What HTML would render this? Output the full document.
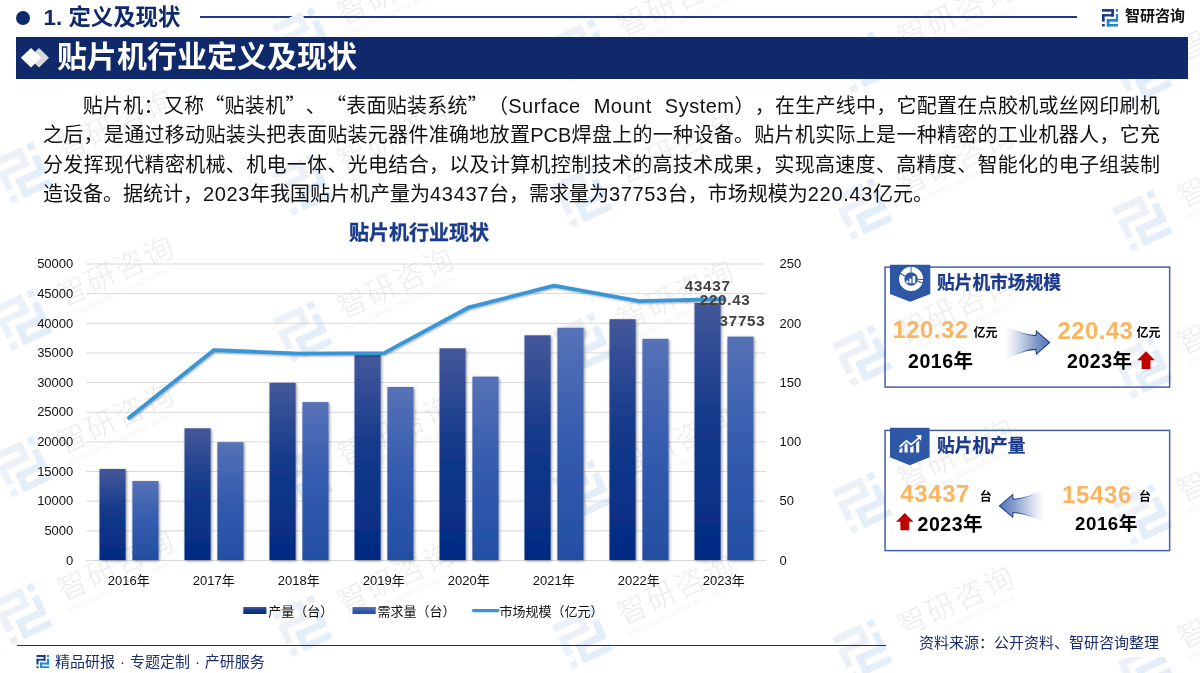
<!DOCTYPE html>
<html lang="zh-CN">
<head>
<meta charset="utf-8">
<title>贴片机行业定义及现状</title>
<style>
html,body{margin:0;padding:0;}
body{width:1200px;height:673px;position:relative;overflow:hidden;background:#fff;
  font-family:"Liberation Sans","Noto Sans CJK SC",sans-serif;color:#000;}
.abs{position:absolute;white-space:nowrap;}
#hdr-dot{left:16px;top:11px;width:14px;height:14px;border-radius:50%;background:#10296b;}
#hdr-txt{left:43.5px;top:3px;font-size:22.4px;line-height:30px;font-weight:bold;color:#10296b;}
#hdr-line{left:200px;top:16.4px;width:877px;height:1.2px;background:#1f3a8a;}
#logo-txt{left:1125px;top:5px;font-size:15px;line-height:22px;font-weight:bold;color:#111;}
#bar{left:16px;top:36.5px;width:1172px;height:42px;background:#10296b;}
#bar-txt{left:57px;top:36px;font-size:30px;line-height:42px;font-weight:bold;color:#fff;}
#para{left:43px;top:91.8px;width:1117px;font-size:20px;line-height:29.4px;color:#111;white-space:normal;}
#para div{text-align:justify;text-align-last:justify;white-space:nowrap;height:29.4px;}
#para{text-spacing-trim:space-all;}
#para .q{font-family:"Noto Sans CJK SC",sans-serif;line-height:0;display:inline-block;width:20.26px;}
#para .p{display:inline-block;width:20.26px;line-height:0;}
#para .d{letter-spacing:0.65px;}
#para div.l1{padding-left:39.8px;text-align:left;text-align-last:left;letter-spacing:0.26px;}
#para .lat{letter-spacing:0.5px;word-spacing:7px;}
#para div.last{text-align:left;text-align-last:left;}
#chart-title{left:319px;top:218.5px;width:200px;text-align:center;font-size:20px;line-height:28px;font-weight:bold;color:#1a3a8c;-webkit-text-stroke:0.3px #1a3a8c;}
#foot-line{left:16.5px;top:644.5px;width:869px;height:1.5px;background:#1a2e6e;}
#foot-src{left:907px;top:630px;padding:2px 12px 3px 12px;background:#fff;font-size:15px;line-height:22px;color:#1a2e6e;}
#foot-txt{left:55px;top:651px;font-size:15px;line-height:22px;color:#1a2e6e;word-spacing:0.8px;}
.card{border:1.5px solid #4262ab;box-sizing:border-box;left:884.3px;width:286px;height:121.4px;}
.ctitle{font-size:17.7px;line-height:24px;font-weight:bold;color:#1a3a8c;-webkit-text-stroke:0.25px #1a3a8c;}
.num{font-size:24px;line-height:28px;font-weight:bold;color:#fcb55f;letter-spacing:0.4px;}
.unit{font-size:12px;line-height:16px;font-weight:bold;color:#000;}
.yr{font-size:19.5px;line-height:26px;font-weight:bold;color:#000;letter-spacing:0.55px;}
</style>
</head>
<body>
<!-- header -->
<div class="abs" id="hdr-dot"></div>
<div class="abs" id="hdr-txt">1. 定义及现状</div>
<div class="abs" id="hdr-line"></div>
<svg width="0" height="0" style="position:absolute">
  <defs>
    <symbol id="zylogo" viewBox="0 0 16.6 17.7">
      <g fill="#1f3a8a">
        <rect x="0" y="0" width="11.9" height="2.7"/><rect x="9.3" y="0" width="2.6" height="7.5"/>
        <rect x="0" y="5.1" width="11.9" height="2.4"/><rect x="0" y="5.1" width="2.7" height="7.6"/>
        <rect x="0" y="15" width="2.7" height="2.7"/>
      </g>
      <g fill="#1a8ad8">
        <rect x="13.9" y="0" width="2.7" height="2.7"/><rect x="13.9" y="5" width="2.7" height="7.7"/>
        <rect x="4.8" y="10" width="11.8" height="2.7"/><rect x="4.8" y="10" width="2.7" height="7.7"/>
        <rect x="4.8" y="15" width="11.8" height="2.7"/>
      </g>
    </symbol>
    <symbol id="zylogow" viewBox="0 0 16.6 17.7">
      <g fill="#ecf0f7">
        <rect x="0" y="0" width="11.9" height="2.7"/><rect x="9.3" y="0" width="2.6" height="7.5"/>
        <rect x="0" y="5.1" width="11.9" height="2.4"/><rect x="0" y="5.1" width="2.7" height="7.6"/>
        <rect x="0" y="15" width="2.7" height="2.7"/>
      </g>
      <g fill="#e4eef9">
        <rect x="13.9" y="0" width="2.7" height="2.7"/><rect x="13.9" y="5" width="2.7" height="7.7"/>
        <rect x="4.8" y="10" width="11.8" height="2.7"/><rect x="4.8" y="10" width="2.7" height="7.7"/>
        <rect x="4.8" y="15" width="11.8" height="2.7"/>
      </g>
    </symbol>
  </defs>
</svg>
<!--WM-START-->
<svg class="abs" id="wm" style="left:0;top:0;pointer-events:none" width="1200" height="673" viewBox="0 0 1200 673" font-family="'Liberation Sans','Noto Sans CJK SC',sans-serif">
<defs><g id="wmu"><use href="#zylogow" x="-22" y="-24" width="45" height="48"/><text x="42.6" y="6" font-size="30" font-weight="300" letter-spacing="1.6" fill="#000" opacity="0.075">智研咨询</text><text x="43" y="18.5" font-size="7" textLength="118" lengthAdjust="spacing" fill="#000" opacity="0.06">INTELLIGENCE RESEARCH GROUP</text></g></defs>
<use href="#wmu" transform="translate(302,-109) rotate(-25)"/>
<use href="#wmu" transform="translate(582,-97) rotate(-25)"/>
<use href="#wmu" transform="translate(862,-85) rotate(-25)"/>
<use href="#wmu" transform="translate(1142,-73) rotate(-25)"/>
<use href="#wmu" transform="translate(302,38) rotate(-25)"/>
<use href="#wmu" transform="translate(582,50) rotate(-25)"/>
<use href="#wmu" transform="translate(862,62) rotate(-25)"/>
<use href="#wmu" transform="translate(1142,74) rotate(-25)"/>
<use href="#wmu" transform="translate(22,173) rotate(-25)"/>
<use href="#wmu" transform="translate(302,185) rotate(-25)"/>
<use href="#wmu" transform="translate(582,197) rotate(-25)"/>
<use href="#wmu" transform="translate(862,209) rotate(-25)"/>
<use href="#wmu" transform="translate(1142,221) rotate(-25)"/>
<use href="#wmu" transform="translate(22,320) rotate(-25)"/>
<use href="#wmu" transform="translate(302,332) rotate(-25)"/>
<use href="#wmu" transform="translate(582,344) rotate(-25)"/>
<use href="#wmu" transform="translate(862,356) rotate(-25)"/>
<use href="#wmu" transform="translate(1142,368) rotate(-25)"/>
<use href="#wmu" transform="translate(22,467) rotate(-25)"/>
<use href="#wmu" transform="translate(302,479) rotate(-25)"/>
<use href="#wmu" transform="translate(582,491) rotate(-25)"/>
<use href="#wmu" transform="translate(862,503) rotate(-25)"/>
<use href="#wmu" transform="translate(1142,515) rotate(-25)"/>
<use href="#wmu" transform="translate(22,614) rotate(-25)"/>
<use href="#wmu" transform="translate(302,626) rotate(-25)"/>
<use href="#wmu" transform="translate(582,638) rotate(-25)"/>
<use href="#wmu" transform="translate(862,650) rotate(-25)"/>
<use href="#wmu" transform="translate(1142,662) rotate(-25)"/>
</svg>
<!--WM-END-->
<svg class="abs" id="logo-ico" style="left:1101.7px;top:9.3px" width="16.6" height="17.7"><use href="#zylogo"/></svg>
<div class="abs" id="logo-txt">智研咨询</div>

<!-- title bar -->
<div class="abs" id="bar"></div>
<svg class="abs" style="left:18px;top:45px" width="36" height="26" viewBox="0 0 36 26">
  <polygon points="21,2.9 31,12.7 21,22.5 11,12.7" fill="#d9d9d9"/>
  <polygon points="13,2.9 23.2,12.7 13,22.5 2.8,12.7" fill="#ffffff"/>
</svg>
<div class="abs" id="bar-txt">贴片机行业定义及现状</div>

<!-- paragraph -->
<div class="abs" id="para">
<div class="l1">贴片机：又称<span class="q">“</span>贴装机<span class="q">”</span><span class="p">、</span><span class="q">“</span>表面贴装系统<span class="q">”</span><span class="p">（</span><span class="lat">Surface Mount System</span><span class="p">）</span><span class="p">，</span>在生产线中，它配置在点胶机或丝网印刷机</div>
<div>之后，是通过移动贴装头把表面贴装元器件准确地放置PCB焊盘上的一种设备。贴片机实际上是一种精密的工业机器人，它充</div>
<div>分发挥现代精密机械、机电一体、光电结合，以及计算机控制技术的高技术成果，实现高速度、高精度、智能化的电子组装制</div>
<div class="last">造设备。据统计，<span class="d">2023</span>年我国贴片机产量为<span class="d">43437</span>台，需求量为<span class="d">37753</span>台，市场规模为<span class="d">220.43</span>亿元。</div>
</div>

<!-- chart -->
<div class="abs" id="chart-title">贴片机行业现状</div>
<!--CHART-START-->
<svg class="abs" style="left:0;top:240px" width="880" height="400" viewBox="0 240 880 400" font-family="'Liberation Sans','Noto Sans CJK SC',sans-serif">
<defs><linearGradient id="gp" x1="0" y1="0" x2="0" y2="1"><stop offset="0" stop-color="#44589b"/><stop offset="0.45" stop-color="#143a8a"/><stop offset="1" stop-color="#022a82"/></linearGradient><linearGradient id="gd" x1="0" y1="0" x2="0" y2="1"><stop offset="0" stop-color="#5672b7"/><stop offset="0.5" stop-color="#345bae"/><stop offset="1" stop-color="#234fa2"/></linearGradient><filter id="sh" x="-30%" y="-5%" width="160%" height="110%"><feGaussianBlur in="SourceAlpha" stdDeviation="1.6"/><feOffset dx="0.6" dy="0.6"/><feComponentTransfer><feFuncA type="linear" slope="0.45"/></feComponentTransfer><feMerge><feMergeNode/><feMergeNode in="SourceGraphic"/></feMerge></filter><filter id="shl" x="-5%" y="-20%" width="110%" height="140%"><feGaussianBlur in="SourceAlpha" stdDeviation="1.2"/><feOffset dx="0.5" dy="1"/><feComponentTransfer><feFuncA type="linear" slope="0.35"/></feComponentTransfer><feMerge><feMergeNode/><feMergeNode in="SourceGraphic"/></feMerge></filter></defs>
<line x1="86.0" y1="560.50" x2="766.0" y2="560.50" stroke="#d9d9d9" stroke-width="1"/>
<line x1="86.0" y1="530.85" x2="766.0" y2="530.85" stroke="#d9d9d9" stroke-width="1"/>
<line x1="86.0" y1="501.20" x2="766.0" y2="501.20" stroke="#d9d9d9" stroke-width="1"/>
<line x1="86.0" y1="471.55" x2="766.0" y2="471.55" stroke="#d9d9d9" stroke-width="1"/>
<line x1="86.0" y1="441.90" x2="766.0" y2="441.90" stroke="#d9d9d9" stroke-width="1"/>
<line x1="86.0" y1="412.25" x2="766.0" y2="412.25" stroke="#d9d9d9" stroke-width="1"/>
<line x1="86.0" y1="382.60" x2="766.0" y2="382.60" stroke="#d9d9d9" stroke-width="1"/>
<line x1="86.0" y1="352.95" x2="766.0" y2="352.95" stroke="#d9d9d9" stroke-width="1"/>
<line x1="86.0" y1="323.30" x2="766.0" y2="323.30" stroke="#d9d9d9" stroke-width="1"/>
<line x1="86.0" y1="293.65" x2="766.0" y2="293.65" stroke="#d9d9d9" stroke-width="1"/>
<line x1="86.0" y1="264.00" x2="766.0" y2="264.00" stroke="#d9d9d9" stroke-width="1"/>
<text x="73.3" y="564.70" font-size="13" text-anchor="end" fill="#111">0</text>
<text x="73.3" y="535.05" font-size="13" text-anchor="end" fill="#111">5000</text>
<text x="73.3" y="505.40" font-size="13" text-anchor="end" fill="#111">10000</text>
<text x="73.3" y="475.75" font-size="13" text-anchor="end" fill="#111">15000</text>
<text x="73.3" y="446.10" font-size="13" text-anchor="end" fill="#111">20000</text>
<text x="73.3" y="416.45" font-size="13" text-anchor="end" fill="#111">25000</text>
<text x="73.3" y="386.80" font-size="13" text-anchor="end" fill="#111">30000</text>
<text x="73.3" y="357.15" font-size="13" text-anchor="end" fill="#111">35000</text>
<text x="73.3" y="327.50" font-size="13" text-anchor="end" fill="#111">40000</text>
<text x="73.3" y="297.85" font-size="13" text-anchor="end" fill="#111">45000</text>
<text x="73.3" y="268.20" font-size="13" text-anchor="end" fill="#111">50000</text>
<text x="779.5" y="564.70" font-size="13" fill="#111">0</text>
<text x="779.5" y="505.40" font-size="13" fill="#111">50</text>
<text x="779.5" y="446.10" font-size="13" fill="#111">100</text>
<text x="779.5" y="386.80" font-size="13" fill="#111">150</text>
<text x="779.5" y="327.50" font-size="13" fill="#111">200</text>
<text x="779.5" y="268.20" font-size="13" fill="#111">250</text>
<g filter="url(#sh)">
<rect x="99.50" y="468.96" width="26.1" height="91.04" fill="url(#gp)"/>
<rect x="132.40" y="481.04" width="26.1" height="78.96" fill="url(#gd)"/>
<rect x="184.50" y="428.30" width="26.1" height="131.70" fill="url(#gp)"/>
<rect x="217.40" y="442.20" width="26.1" height="117.80" fill="url(#gd)"/>
<rect x="269.50" y="382.78" width="26.1" height="177.22" fill="url(#gp)"/>
<rect x="302.40" y="402.11" width="26.1" height="157.89" fill="url(#gd)"/>
<rect x="354.50" y="354.85" width="26.1" height="205.15" fill="url(#gp)"/>
<rect x="387.40" y="386.99" width="26.1" height="173.01" fill="url(#gd)"/>
<rect x="439.50" y="348.32" width="26.1" height="211.68" fill="url(#gp)"/>
<rect x="472.40" y="376.61" width="26.1" height="183.39" fill="url(#gd)"/>
<rect x="524.50" y="335.28" width="26.1" height="224.72" fill="url(#gp)"/>
<rect x="557.40" y="327.81" width="26.1" height="232.19" fill="url(#gd)"/>
<rect x="609.50" y="319.21" width="26.1" height="240.79" fill="url(#gp)"/>
<rect x="642.40" y="338.84" width="26.1" height="221.16" fill="url(#gd)"/>
<rect x="694.50" y="302.92" width="26.1" height="257.08" fill="url(#gp)"/>
<rect x="727.40" y="336.62" width="26.1" height="223.38" fill="url(#gd)"/>
</g>
<polyline points="129.00,417.80 214.00,350.10 299.00,353.66 384.00,353.07 469.00,307.29 554.00,285.70 639.00,301.12 724.00,299.07" fill="none" stroke="#3796d6" stroke-width="3.8" stroke-linejoin="round" stroke-linecap="round" filter="url(#shl)"/>
<text x="128.80" y="585.2" font-size="13" text-anchor="middle" fill="#111">2016年</text>
<text x="213.80" y="585.2" font-size="13" text-anchor="middle" fill="#111">2017年</text>
<text x="298.80" y="585.2" font-size="13" text-anchor="middle" fill="#111">2018年</text>
<text x="383.80" y="585.2" font-size="13" text-anchor="middle" fill="#111">2019年</text>
<text x="468.80" y="585.2" font-size="13" text-anchor="middle" fill="#111">2020年</text>
<text x="553.80" y="585.2" font-size="13" text-anchor="middle" fill="#111">2021年</text>
<text x="638.80" y="585.2" font-size="13" text-anchor="middle" fill="#111">2022年</text>
<text x="723.80" y="585.2" font-size="13" text-anchor="middle" fill="#111">2023年</text>
<g font-size="15.2" font-weight="bold" fill="#404040" letter-spacing="0.7">
<text x="684.8" y="290.9">43437</text>
<text x="699.8" y="305">220.43</text>
<text x="719.6" y="326.4">37753</text>
</g>
<rect x="243.3" y="607" width="23.1" height="7" fill="url(#gp)"/>
<text x="268.3" y="615.7" font-size="13" fill="#111">产量（台）</text>
<rect x="352.5" y="607" width="23.2" height="7" fill="url(#gd)"/>
<text x="377.6" y="615.7" font-size="13" fill="#111">需求量（台）</text>
<line x1="473.5" y1="610.6" x2="498" y2="610.6" stroke="#3796d6" stroke-width="3.2" stroke-linecap="round"/>
<text x="499.5" y="615.7" font-size="13" fill="#111">市场规模（亿元）</text>
</svg>
<!--CHART-END-->

<!-- cards -->
<!--CARDS-START-->
<!-- card 1 -->
<svg class="abs" style="left:880px;top:262px" width="296" height="130" viewBox="880 262 296 130"><rect x="885.05" y="267.1" width="284.6" height="120" fill="none" stroke="#4060a8" stroke-width="1.5"/></svg>
<svg class="abs" style="left:888px;top:262px" width="46" height="44" viewBox="888 262 46 44">
  <polygon points="890,264.8 930.3,264.8 930.3,294.1 910.2,301.8 890,294.1" fill="#2e57a6"/>
  <circle cx="911.1" cy="278.9" r="9.4" fill="none" stroke="#fff" stroke-width="5.3"/>
  <g stroke="#2e57a6" fill="none">
    <line x1="911.1" y1="265" x2="911.1" y2="272.5" stroke-width="0.9"/>
    <line x1="899.5" y1="273" x2="905.3" y2="276.2" stroke-width="1.2"/>
    <line x1="917.3" y1="279.2" x2="924" y2="279.6" stroke-width="1"/>
    <line x1="917.2" y1="281" x2="923.6" y2="283.3" stroke-width="1.1"/>
  </g>
  <g fill="#fff">
    <rect x="906.3" y="280.6" width="2.1" height="2.6"/>
    <rect x="909.3" y="278.6" width="2.1" height="4.6"/>
    <rect x="912.6" y="276" width="2.6" height="7.2"/>
  </g>
</svg>
<div class="abs ctitle" style="left:937px;top:270.5px">贴片机市场规模</div>
<div class="abs num" style="left:892.6px;top:316.3px">120.32</div>
<div class="abs unit" style="left:973.5px;top:324.5px">亿元</div>
<div class="abs yr" style="left:908px;top:347.5px">2016年</div>
<svg class="abs" style="left:1000px;top:320px" width="56" height="46" viewBox="1000 320 56 46">
  <defs>
    <linearGradient id="ga1" x1="1005" y1="0" x2="1051" y2="0" gradientUnits="userSpaceOnUse"><stop offset="0" stop-color="#4f70b4" stop-opacity="0"/><stop offset="0.08" stop-color="#4f70b4" stop-opacity="0.06"/><stop offset="0.35" stop-color="#4f70b4" stop-opacity="0.33"/><stop offset="0.67" stop-color="#4f70b4" stop-opacity="0.71"/><stop offset="1" stop-color="#4f70b4" stop-opacity="1"/></linearGradient>
    <linearGradient id="gs1" x1="1005" y1="0" x2="1050" y2="0" gradientUnits="userSpaceOnUse"><stop offset="0" stop-color="#1f4190" stop-opacity="0"/><stop offset="0.2" stop-color="#1f4190" stop-opacity="0"/><stop offset="0.6" stop-color="#1f4190" stop-opacity="1"/><stop offset="1" stop-color="#1f4190" stop-opacity="1"/></linearGradient>
  </defs>
  <path d="M1005,325.1 C1014,331.2 1027,335.5 1036,335.6 L1036.4,331 L1049.7,342.5 L1036.4,354.2 L1036,349.4 C1027,349.5 1014,354.2 1005,360.8 Z" fill="url(#ga1)" stroke="url(#gs1)" stroke-width="1.1" stroke-linejoin="miter"/>
</svg>
<div class="abs num" style="left:1057.5px;top:316.5px">220.43</div>
<div class="abs unit" style="left:1136.5px;top:324.5px">亿元</div>
<div class="abs yr" style="left:1067px;top:347.5px">2023年</div>
<svg class="abs" style="left:1136px;top:350px" width="20" height="20" viewBox="1136 350 20 20">
  <polygon points="1146,351.3 1154.9,360.3 1150.5,360.3 1150.5,368.9 1141.6,368.9 1141.6,360.3 1137.1,360.3" fill="#c00000"/>
</svg>

<!-- card 2 -->
<svg class="abs" style="left:880px;top:425px" width="296" height="130" viewBox="880 425 296 130"><rect x="885.05" y="430.4" width="284.6" height="120.2" fill="none" stroke="#4060a8" stroke-width="1.5"/></svg>
<svg class="abs" style="left:888px;top:425px" width="46" height="44" viewBox="888 425 46 44">
  <polygon points="890,427.8 929.6,427.8 929.6,457.2 909.8,465.3 890,457.2" fill="#2e57a6"/>
  <g fill="#fff">
    <polygon points="899.4,449.6 902.4,447.4 902.4,452.4 899.4,452.4"/>
    <polygon points="904.5,445 906.4,443.3 907.6,444.3 907.6,452.4 904.5,452.4"/>
    <polygon points="910.2,446.6 911.2,447.4 913.5,445.4 913.5,452.4 910.2,452.4"/>
    <polygon points="916.2,443 919.2,440.4 919.2,452.4 916.2,452.4"/>
  </g>
  <polyline points="899.6,447 906.4,440.8 911.1,444.7 919.3,437.7" fill="none" stroke="#fff" stroke-width="1.7" stroke-linejoin="miter"/>
  <polygon points="915.6,435.2 921.4,434.9 921.1,440.8" fill="#fff"/>
</svg>
<div class="abs ctitle" style="left:937px;top:434px">贴片机产量</div>
<div class="abs num" style="left:900.3px;top:480px;letter-spacing:0.6px">43437</div>
<div class="abs unit" style="left:979.7px;top:488.5px">台</div>
<svg class="abs" style="left:895px;top:512px" width="20" height="20" viewBox="895 512 20 20">
  <polygon points="904.8,512.9 913.5,521.8 909.2,521.8 909.2,530.3 900.4,530.3 900.4,521.8 896,521.8" fill="#c00000"/>
</svg>
<div class="abs yr" style="left:917.5px;top:510.5px">2023年</div>
<svg class="abs" style="left:994px;top:482px" width="56" height="46" viewBox="994 482 56 46">
  <defs>
    <linearGradient id="ga2" x1="1044" y1="0" x2="998" y2="0" gradientUnits="userSpaceOnUse"><stop offset="0" stop-color="#4f70b4" stop-opacity="0"/><stop offset="0.08" stop-color="#4f70b4" stop-opacity="0.06"/><stop offset="0.35" stop-color="#4f70b4" stop-opacity="0.33"/><stop offset="0.67" stop-color="#4f70b4" stop-opacity="0.71"/><stop offset="1" stop-color="#4f70b4" stop-opacity="1"/></linearGradient>
    <linearGradient id="gs2" x1="1044" y1="0" x2="999" y2="0" gradientUnits="userSpaceOnUse"><stop offset="0" stop-color="#1f4190" stop-opacity="0"/><stop offset="0.2" stop-color="#1f4190" stop-opacity="0"/><stop offset="0.6" stop-color="#1f4190" stop-opacity="1"/><stop offset="1" stop-color="#1f4190" stop-opacity="1"/></linearGradient>
  </defs>
  <path d="M1044,488.8 C1035,494.8 1022,499 1013,499.2 L1012.7,494.7 L999.4,505.9 L1012.7,517.1 L1013,512.5 C1022,512.7 1035,517 1044,523 Z" fill="url(#ga2)" stroke="url(#gs2)" stroke-width="1.1" stroke-linejoin="miter"/>
</svg>
<div class="abs num" style="left:1062px;top:480.5px;letter-spacing:0.65px">15436</div>
<div class="abs unit" style="left:1139px;top:488.5px">台</div>
<div class="abs yr" style="left:1075px;top:510.5px;font-size:18.7px">2016年</div>
<!--CARDS-END-->

<!-- footer -->
<div class="abs" id="foot-line"></div>
<div class="abs" id="foot-src">资料来源：公开资料、智研咨询整理</div>
<svg class="abs" style="left:35.7px;top:654.6px" width="13.5" height="13.3" viewBox="0 0 13.5 13.3" preserveAspectRatio="none"><use href="#zylogo" width="13.5" height="13.3" preserveAspectRatio="none"/></svg>
<div class="abs" id="foot-txt">精品研报 · 专题定制 · 产研服务</div>
</body>
</html>
